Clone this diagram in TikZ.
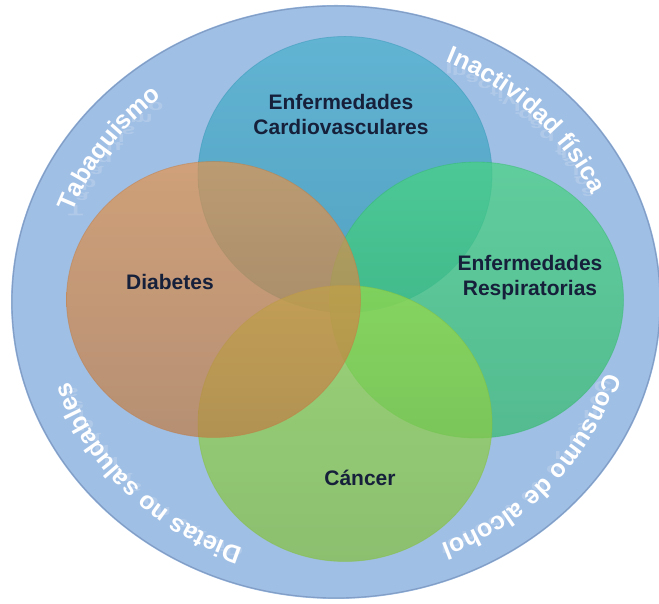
\documentclass[tikz,border=0pt]{standalone}
\usepackage{fontspec}
\setmainfont{Liberation Sans}
\usetikzlibrary{decorations.text,calc}
\definecolor{ringblue}{RGB}{160,191,229}
\definecolor{ringedge}{RGB}{130,158,198}
\definecolor{cardioT}{RGB}{72,176,204}
\definecolor{cardioB}{RGB}{50,150,180}
\definecolor{respT}{RGB}{70,212,128}
\definecolor{respB}{RGB}{52,186,108}
\definecolor{cancerT}{RGB}{152,218,74}
\definecolor{cancerB}{RGB}{132,192,62}
\definecolor{diabT}{RGB}{228,148,76}
\definecolor{diabB}{RGB}{192,124,68}
\definecolor{labeltext}{RGB}{22,32,58}
\begin{document}
\begin{tikzpicture}[x=1pt,y=1pt,
  venn/.style={fill opacity=0.7, draw opacity=0.45, line width=0.8pt},
  lbl/.style={text=labeltext, font=\bfseries\fontsize{21}{25}\selectfont, align=center},
  ringtext/.style={decorate, decoration={text along path, text align=center, text color=white,
     text={|\bfseries\fontsize{25}{25}\selectfont|#1}}},
  ringrefl/.style={decorate, decoration={text effects along path, text align=center, text={#1},
     text effects/.cd, characters={text=white, opacity=0.17, font=\bfseries\fontsize{25}{25}\selectfont,
     inner sep=0pt, anchor=base, yscale=-0.6}}}
]
\useasboundingbox (0,0) rectangle (659,604);
\coordinate (C) at (336,302);
% outer ring
\fill[ringblue] (C) ellipse[x radius=325, y radius=297];
\draw[ringedge, line width=1.2pt] (C) ellipse[x radius=324, y radius=296];
% venn circles (drawn top, right, bottom, left)
\shade[venn, top color=cardioT, bottom color=cardioB, draw=cardioB] (345,429.5) ellipse[x radius=147, y radius=138];
\shade[venn, top color=respT, bottom color=respB, draw=respB] (476.5,304) ellipse[x radius=147, y radius=138];
\shade[venn, top color=cancerT, bottom color=cancerB, draw=cancerB] (345,180.5) ellipse[x radius=147, y radius=138];
\shade[venn, top color=diabT, bottom color=diabB, draw=diabB] (213.5,304.5) ellipse[x radius=147, y radius=138];
% labels
\node[lbl] (cardio) at (341,489) {Enfermedades\\Cardiovasculares};
\node[lbl] (diab) at (170,322) {Diabetes};
\node[lbl] (resp) at (530,326.5) {Enfermedades\\Respiratorias};
\node[lbl] (cancer) at (360,126) {Cáncer};
% ring text reflections
\path[ringrefl={Tabaquismo}] ($(C)+(180:280 and 261)$) arc[start angle=180, end angle=109.4, x radius=280, y radius=261];
\path[ringrefl={Inactividad física}] ($(C)+(85:280 and 261)$) arc[start angle=85, end angle=5, x radius=280, y radius=261];
\path[ringrefl={Consumo de alcohol}] ($(C)+(0:280 and 261)$) arc[start angle=0, end angle=-82.6, x radius=280, y radius=261];
\path[ringrefl={Dietas no saludables}] ($(C)+(265:280 and 261)$) arc[start angle=265, end angle=182.4, x radius=280, y radius=261];
% ring texts
\path[ringtext={Tabaquismo}] ($(C)+(180:280 and 261)$) arc[start angle=180, end angle=109.4, x radius=280, y radius=261];
\path[ringtext={Inactividad física}] ($(C)+(85:280 and 261)$) arc[start angle=85, end angle=5, x radius=280, y radius=261];
\path[ringtext={Consumo de alcohol}] ($(C)+(0:280 and 261)$) arc[start angle=0, end angle=-82.6, x radius=280, y radius=261];
\path[ringtext={Dietas no saludables}] ($(C)+(265:280 and 261)$) arc[start angle=265, end angle=182.4, x radius=280, y radius=261];
\end{tikzpicture}
\end{document}
